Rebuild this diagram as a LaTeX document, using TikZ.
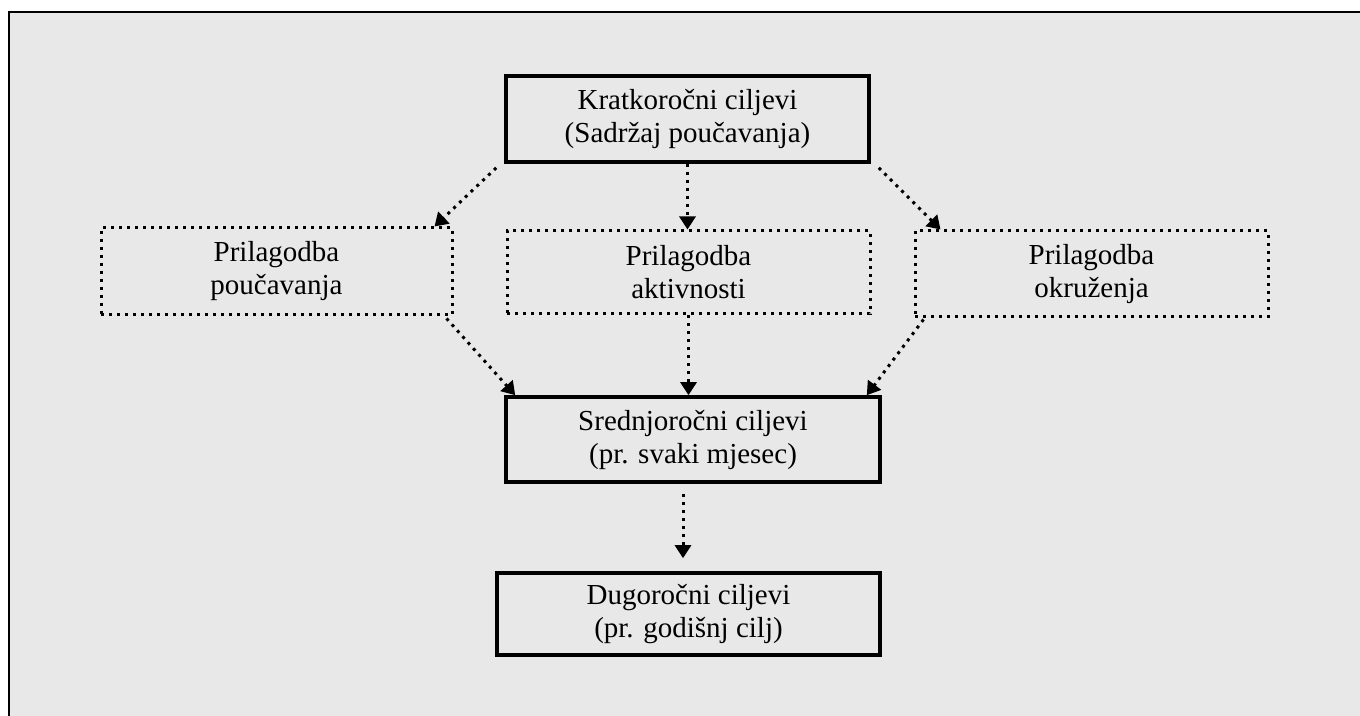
\documentclass[tikz,border=0pt]{standalone}
\usepackage{fontspec}
\setmainfont{Liberation Serif}
\usetikzlibrary{arrows.meta}
\definecolor{panelgray}{HTML}{E8E8E8}
\tikzset{
  goal/.style={draw, line width=1.8pt, inner sep=0pt, align=center,
    font=\fontsize{14.5}{16.5}\selectfont},
  adapt/.style={draw, line width=1.5pt, dash pattern=on 1.5pt off 2.5pt,
    inner sep=0pt, align=center, font=\fontsize{14.5}{16.5}\selectfont},
  flow/.style={line width=1.5pt, dash pattern=on 1.5pt off 2.5pt,
    -{Triangle[width=8pt,length=6.5pt]}}
}
\begin{document}
\begin{tikzpicture}[x=0.5pt,y=-0.5pt]
\useasboundingbox (0,0) rectangle (1360,716);
\clip (0,0) rectangle (1360,716);
\draw[line width=1.2pt, fill=panelgray] (9,12) rectangle (1380,740);

% goals
\node[goal, minimum width=181.5pt, minimum height=43pt] (kratko) at (687.5,119)
  {Kratkoročni ciljevi\\(Sadržaj poučavanja)};
\node[goal, minimum width=187pt, minimum height=42.5pt] (sred) at (693,439.5)
  {Srednjoročni ciljevi\\(pr. svaki mjesec)};
\node[goal, minimum width=191.5pt, minimum height=41pt] (dugo) at (688.5,614)
  {Dugoročni ciljevi\\(pr. godišnj cilj)};

% adaptations
\node[adapt, minimum width=175.5pt, minimum height=43.5pt] (poucav) at (276.5,271.5)
  {Prilagodba\\poučavanja};
\node[adapt, minimum width=181.5pt, minimum height=41.5pt] (aktiv) at (688.5,272.5)
  {Prilagodba\\aktivnosti};
\node[adapt, minimum width=176.5pt, minimum height=43pt] (okruz) at (1091.5,274)
  {Prilagodba\\okruženja};

\draw[flow] ([shift={(-8,4)}]kratko.south west) -- ([shift={(-19,0)}]poucav.north east);
\draw[flow] (kratko.south) -- (kratko.south |- aktiv.north);
\draw[flow] ([shift={(8,4)}]kratko.south east) -- ([shift={(27,0)}]okruz.north west);

\draw[flow] ([shift={(-7,2)}]poucav.south east) -- ([shift={(11,0)}]sred.north west);
\draw[flow] (aktiv.south) -- (aktiv.south |- sred.north);
\draw[flow] ([shift={(10,1)}]okruz.south west) -- ([shift={(-15,0)}]sred.north east);

\draw[flow] ([shift={(-10,10)}]sred.south) -- ([shift={(-5.5,-13)}]dugo.north);
\end{tikzpicture}
\end{document}
